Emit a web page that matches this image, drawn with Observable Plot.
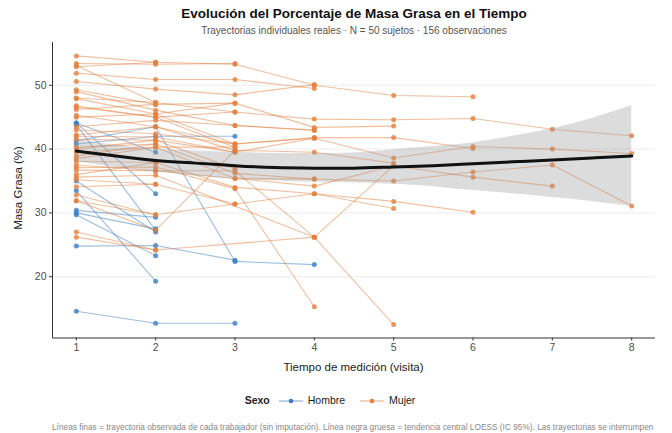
<!DOCTYPE html>
<html><head><meta charset="utf-8">
<script src="https://cdn.jsdelivr.net/npm/d3@7"></script>
<script src="https://cdn.jsdelivr.net/npm/@observablehq/plot@0.6"></script>
<style>
body{margin:0;background:#fff;font-family:"Liberation Sans",Arial,sans-serif;}
#wrap{position:relative;width:672px;height:433px;overflow:hidden;background:#fff;}
#chart{position:absolute;left:0;top:0;}
.t{position:absolute;white-space:nowrap;}
#title{left:0;width:708px;top:6px;text-align:center;font-weight:bold;font-size:13.5px;color:#111;}
#subtitle{left:0;width:708px;top:25px;text-align:center;font-size:10px;color:#555;}
#xlab{left:52px;width:603px;top:361px;text-align:center;font-size:11.5px;color:#222;}
#ylab{left:-27px;top:182px;width:90px;text-align:center;font-size:11.5px;color:#222;transform:rotate(-90deg);}
#legend{left:0;width:672px;top:394px;text-align:center;font-size:10.5px;color:#222;}
#legend b{margin-right:6px;}
#legend svg{vertical-align:middle;margin:0 4px 0 2px;}
#caption{left:52px;top:422px;font-size:8.3px;color:#888;}
</style></head><body><div id="wrap">
<div id="chart"></div>
<div class="t" id="title">Evolución del Porcentaje de Masa Grasa en el Tiempo</div>
<div class="t" id="subtitle">Trayectorias individuales reales · N = 50 sujetos · 156 observaciones</div>
<div class="t" id="xlab">Tiempo de medición (visita)</div>
<div class="t" id="ylab">Masa Grasa (%)</div>
<div class="t" id="legend"></div>
<div class="t" id="caption">Líneas finas = trayectoria observada de cada trabajador (sin imputación). Línea negra gruesa = tendencia central LOESS (IC 95%). Las trayectorias se interrumpen</div>
</div>
<script>
const visits = [1, 2, 3, 4, 5, 6, 7, 8];
const yTicks = [20, 30, 40, 50];
const sexes = ["Hombre", "Mujer"];
const sexColors = ["#3b7dc4", "#e3803d"];

// one entry per subject: sex and % body fat per visit (null = not observed)
const subjectSex = [
  "Hombre","Hombre","Hombre","Hombre","Hombre","Hombre","Hombre","Hombre","Hombre","Hombre","Hombre","Hombre",
  "Mujer","Mujer","Mujer","Mujer","Mujer","Mujer","Mujer","Mujer","Mujer","Mujer","Mujer","Mujer","Mujer",
  "Mujer","Mujer","Mujer","Mujer","Mujer","Mujer","Mujer","Mujer","Mujer","Mujer","Mujer","Mujer","Mujer",
  "Mujer","Mujer","Mujer","Mujer","Mujer","Mujer","Mujer","Mujer","Mujer","Mujer","Mujer","Mujer"
];
const subjectValues = [
  [14.6, 12.7, 12.7],
  [44.1, 39.5],
  [43.8, 27.3],
  [40.8, 42.0, 42.0],
  [41.3, 43.5, 22.4, 21.9],
  [35.0, 27.0],
  [33.5, 19.3],
  [30.4, 29.3],
  [30.0, 27.5],
  [29.7, 23.3],
  [24.8, 24.9, 22.6],
  [44.1, 33.0],
  [54.6, 53.6, 53.3, 50.0, 48.4, 48.2],
  [53.4, 53.3, 53.4],
  [53.1, 47.3, 45.8, 44.7, 44.6, 44.8, 43.1, 42.1],
  [51.9, 50.9, 50.9, 49.5],
  [50.6, 49.4, 48.5, 50.1],
  [49.3, 47.0, 47.2, 43.4, 43.6],
  [49.0, 46.1, 43.7, 42.9],
  [47.9, 45.5, 40.8, 41.8, 41.8, 40.1],
  [46.6, 45.0, 40.3],
  [46.2, 47.0],
  [45.3, 43.5, 39.8, 39.5, 37.8],
  [43.0, 42.4, 40.8, 41.7],
  [42.0, 41.9, 39.5, 41.7, 38.6, 40.4, 40.0, 39.3],
  [41.5, 41.4, 36.9],
  [40.3, 40.8, 36.2, 35.3, 35.0, 36.4, 37.5, 31.1],
  [39.5, 40.3, 35.4, 34.2, 37.4, 35.6, 34.2],
  [38.1, 37.9, 34.0, 33.0, 30.7],
  [37.1, 37.2, 33.8, 15.3],
  [36.7, 36.6, 36.6, 26.2, 12.5],
  [35.6, 35.9, null, 26.2, 37.4],
  [34.1, 34.5, 31.4, 33.0, 31.8, 30.1],
  [32.8, 29.7, 31.4],
  [31.9, 27.3, 39.8],
  [31.9, 29.7],
  [27.0, 24.2, null, 26.2],
  [26.2, 24.2],
  [48.0, 47.3],
  [45.0, 45.5, 47.2],
  [38.5, 40.3, 40.3],
  [43.5, 44.5, 43.7, 43.0],
  [36.0, 37.9],
  [40.0, 41.4, 39.5],
  [37.5, 36.6, 35.4, 35.3],
  [52.9, 53.6],
  [46.8, 45.0, 45.8],
  [42.2, 43.5, 40.8],
  [38.9, 40.8],
  [35.2, 34.5]
];

// LOESS trend and 95% band
const smoothX  = [1, 1.5, 2, 2.5, 3, 3.5, 4, 4.5, 5, 5.5, 6, 6.5, 7, 7.5, 8];
const smoothFit = [39.7, 38.9, 38.2, 37.8, 37.4, 37.1, 37.0, 37.0, 37.2, 37.4, 37.7, 38.0, 38.3, 38.6, 38.9];
const smoothLo  = [38.0, 37.1, 36.4, 35.8, 35.3, 35.0, 34.8, 34.7, 34.5, 34.1, 33.5, 33.0, 32.4, 31.8, 31.0];
const smoothHi  = [41.5, 40.6, 40.0, 39.7, 39.5, 39.3, 39.3, 39.4, 39.9, 40.4, 41.0, 42.0, 43.2, 44.8, 46.8];

const rows = [];
subjectValues.forEach((vals, i) => {
  vals.forEach((v, j) => {
    if (v != null) rows.push({id: i, sexo: subjectSex[i], visita: visits[j], masa: v});
  });
});
const smooth = smoothX.map((x, i) => ({x, fit: smoothFit[i], lo: smoothLo[i], hi: smoothHi[i]}));

const yDom = [10.4, 56.7];
const xDom = [0.7, 8.3];

const chart = Plot.plot({
  width: 672,
  height: 380,
  marginTop: 42,
  marginBottom: 42.5,
  marginLeft: 52,
  marginRight: 17,
  style: {fontFamily: "Liberation Sans, Arial, sans-serif", background: "transparent"},
  x: {domain: xDom, label: null},
  y: {domain: yDom, label: null},
  color: {domain: sexes, range: sexColors},
  marks: [
    Plot.ruleY(yTicks, {stroke: "#ececec", strokeWidth: 1}),
    Plot.line(rows, {x: "visita", y: "masa", z: "id", stroke: "sexo", strokeOpacity: 0.5, strokeWidth: 1.1}),
    Plot.dot(rows, {x: "visita", y: "masa", fill: "sexo", r: 2.5, fillOpacity: 0.8, stroke: null}),
    Plot.areaY(smooth, {x: "x", y1: "lo", y2: "hi", fill: "#9a9a9a", fillOpacity: 0.35, curve: "natural"}),
    Plot.line(smooth, {x: "x", y: "fit", stroke: "#111", strokeWidth: 3, curve: "natural"}),
    Plot.ruleX([xDom[0]], {stroke: "#333", strokeWidth: 1}),
    Plot.ruleY([yDom[0]], {stroke: "#333", strokeWidth: 1}),
    Plot.axisX(visits, {tickSize: 3, tickPadding: 3, fontSize: 10.5, stroke: "#333", fill: "#4d4d4d", tickFormat: d => String(d), label: null}),
    Plot.axisY(yTicks, {tickSize: 3, tickPadding: 3, fontSize: 10.5, stroke: "#333", fill: "#4d4d4d", label: null})
  ]
});
document.getElementById("chart").appendChild(chart);

// legend
const leg = document.getElementById("legend");
const b = document.createElement("b"); b.textContent = "Sexo"; leg.appendChild(b);
sexes.forEach((s, i) => {
  const ns = "http://www.w3.org/2000/svg";
  const sv = document.createElementNS(ns, "svg");
  sv.setAttribute("width", 26); sv.setAttribute("height", 10);
  const ln = document.createElementNS(ns, "line");
  ln.setAttribute("x1", 1); ln.setAttribute("x2", 25); ln.setAttribute("y1", 5); ln.setAttribute("y2", 5);
  ln.setAttribute("stroke", sexColors[i]); ln.setAttribute("stroke-opacity", 0.7);
  const c = document.createElementNS(ns, "circle");
  c.setAttribute("cx", 13); c.setAttribute("cy", 5); c.setAttribute("r", 2.3); c.setAttribute("fill", sexColors[i]);
  sv.appendChild(ln); sv.appendChild(c); leg.appendChild(sv);
  const sp = document.createElement("span"); sp.textContent = s; sp.style.marginRight = "12px"; leg.appendChild(sp);
});
</script>
</body></html>
